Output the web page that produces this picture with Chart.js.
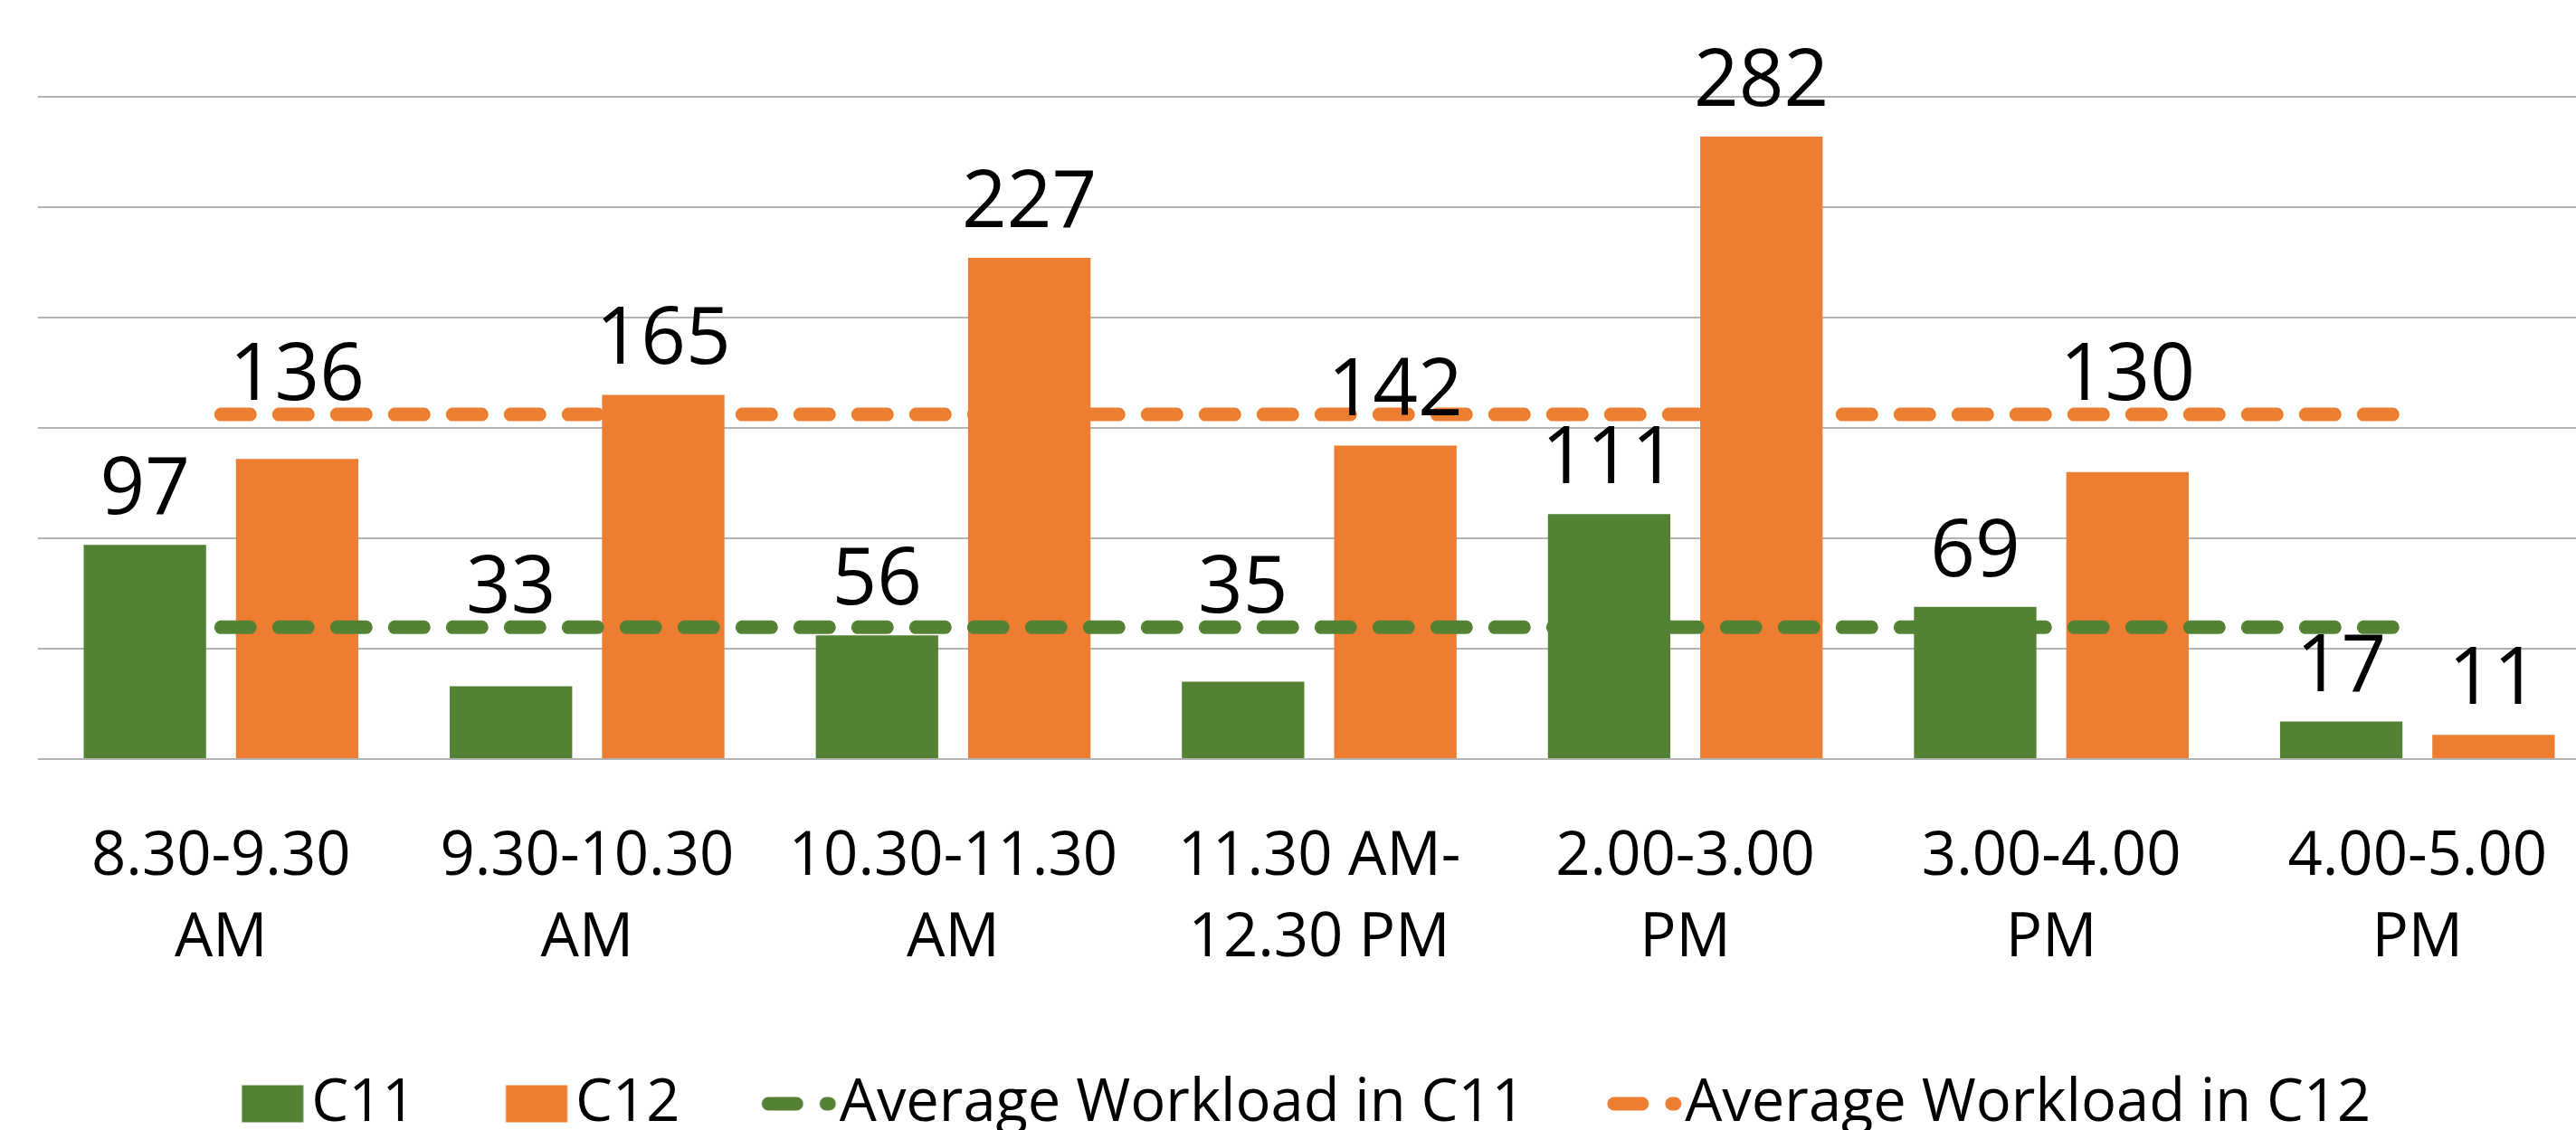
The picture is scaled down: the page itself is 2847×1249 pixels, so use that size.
<!DOCTYPE html>
<html>
<head>
<meta charset="utf-8">
<script src="https://cdn.jsdelivr.net/npm/chart.js@4.4.1/dist/chart.umd.min.js"></script>
<style>
  html, body { margin: 0; padding: 0; background: #fff; overflow: hidden; }
  #wrap { position: relative; width: 2920px; height: 1249px; }
</style>
</head>
<body>
<div id="wrap"><canvas id="chart"></canvas></div>
<script>
/* ================= DATA ================= */
const timeSlots = [
  ["8.30-9.30", "AM"],
  ["9.30-10.30", "AM"],
  ["10.30-11.30", "AM"],
  ["11.30 AM-", "12.30 PM"],
  ["2.00-3.00", "PM"],
  ["3.00-4.00", "PM"],
  ["4.00-5.00", "PM"]
];
const c11Values = [97, 33, 56, 35, 111, 69, 17];
const c12Values = [136, 165, 227, 142, 282, 130, 11];
const c11Average = [59.7, 59.7, 59.7, 59.7, 59.7, 59.7, 59.7];
const c12Average = [156.1, 156.1, 156.1, 156.1, 156.1, 156.1, 156.1];
const yTicks = [0, 50, 100, 150, 200, 250, 300];

const GREEN = "#548235";
const ORANGE = "#ED7D31";
const FONT = "'Open Sans', Lato, sans-serif";

/* ================= LEGEND ICONS ================= */
// icons are right-aligned inside the image so they sit close to the label text
function barIcon(color) {
  const c = document.createElement("canvas");
  c.width = 76; c.height = 44;
  const ctx = c.getContext("2d");
  ctx.fillStyle = color;
  ctx.fillRect(1.5, 1.5, 68, 41);
  return c;
}

function lineIcon(color) {
  const c = document.createElement("canvas");
  c.width = 94; c.height = 20;
  const ctx = c.getContext("2d");
  ctx.strokeStyle = color;
  ctx.lineWidth = 15;
  ctx.lineCap = "round";
  ctx.beginPath();
  ctx.moveTo(9, 10); ctx.lineTo(40, 10);
  ctx.moveTo(73, 10); ctx.lineTo(76, 10);
  ctx.stroke();
  return c;
}

const legendIcons = [barIcon(GREEN), barIcon(ORANGE), lineIcon(GREEN), lineIcon(ORANGE)];

/* ================= VALUE LABELS ================= */
// labels sit above the bar; if the average line would cut through them, lift them over it
const valueLabels = {
  id: "valueLabels",
  afterDatasetsDraw(chart) {
    const ctx = chart.ctx;
    ctx.save();
    ctx.font = "87px " + FONT;
    ctx.fillStyle = "#000";
    ctx.textAlign = "center";
    ctx.textBaseline = "alphabetic";
    [0, 1].forEach(di => {
      const meta = chart.getDatasetMeta(di);
      const avgMeta = chart.getDatasetMeta(di + 2);
      meta.data.forEach((bar, i) => {
        let base = bar.y - 34;
        const lineY = avgMeta.data[i].y;
        if (lineY > base - 53 && lineY < base - 10) base = lineY - 16;
        ctx.fillText(String(chart.data.datasets[di].data[i]), bar.x, base);
      });
    });
    ctx.restore();
  }
};

/* ================= CHART ================= */
new Chart(document.getElementById("chart"), {
  type: "bar",
  data: {
    labels: timeSlots,
    datasets: [
      { label: "C11", data: c11Values, backgroundColor: GREEN, order: 1 },
      { label: "C12", data: c12Values, backgroundColor: ORANGE, order: 1 },
      {
        type: "line", label: "Average Workload in C11", data: c11Average,
        borderColor: GREEN, borderWidth: 15, borderDash: [32, 32], borderCapStyle: "round",
        pointRadius: 0, fill: false, order: 0
      },
      {
        type: "line", label: "Average Workload in C12", data: c12Average,
        borderColor: ORANGE, borderWidth: 15, borderDash: [32, 32], borderCapStyle: "round",
        pointRadius: 0, fill: false, order: 0
      }
    ]
  },
  options: {
    responsive: true,
    maintainAspectRatio: false,
    animation: false,
    datasets: {
      bar: { categoryPercentage: 0.832, barPercentage: 0.804 }
    },
    layout: { padding: { top: 107, left: 42, right: 46, bottom: -13.5 } },
    plugins: {
      tooltip: { enabled: false },
      legend: {
        position: "bottom",
        labels: {
          color: "#000",
          font: { family: FONT, size: 65 },
          usePointStyle: true,
          pointStyleWidth: 16,
          padding: 128,
          generateLabels: (chart) => chart.data.datasets.map((ds, i) => ({
            text: ds.label,
            pointStyle: legendIcons[i],
            fillStyle: "transparent",
            strokeStyle: "transparent",
            lineWidth: 0,
            hidden: !chart.isDatasetVisible(i),
            datasetIndex: i
          }))
        }
      }
    },
    scales: {
      x: {
        grid: { display: false },
        border: { display: false },
        ticks: {
          color: "#000",
          font: { family: FONT, size: 67, lineHeight: 1.343 },
          padding: 56,
          maxRotation: 0,
          autoSkip: false
        },
        afterFit: (scale) => { scale.height = 220.5; }
      },
      y: {
        min: yTicks[0],
        max: yTicks[yTicks.length - 1],
        ticks: { display: false, stepSize: yTicks[1] - yTicks[0] },
        border: { display: false },
        grid: { color: "#b3b3b3", lineWidth: 2, drawTicks: false }
      }
    }
  },
  plugins: [valueLabels]
});
</script>
</body>
</html>
